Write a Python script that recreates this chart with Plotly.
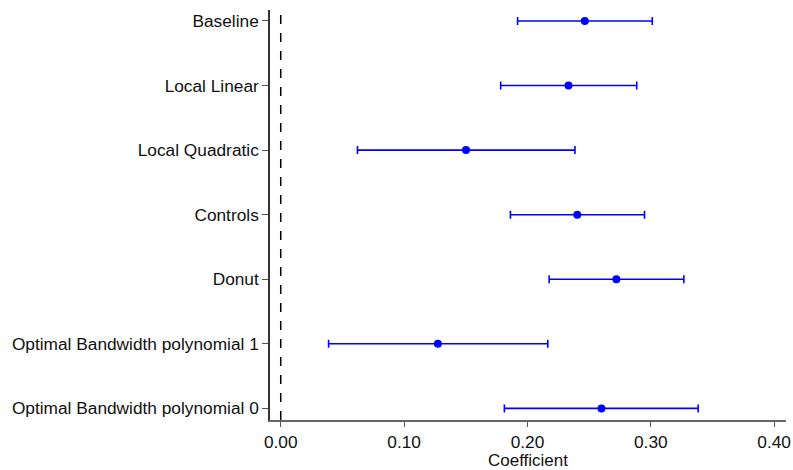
import plotly.graph_objects as go

labels = ["Optimal Bandwidth polynomial 0", "Optimal Bandwidth polynomial 1",
          "Donut", "Controls", "Local Quadratic", "Local Linear", "Baseline"]
coef = [0.260, 0.1274, 0.2721, 0.2404, 0.1502, 0.2333, 0.2465]
ci_low = [0.1813, 0.0388, 0.2176, 0.1862, 0.0622, 0.1783, 0.1920]
ci_high = [0.3384, 0.2165, 0.3268, 0.2949, 0.2385, 0.2886, 0.3012]
xticks = [0.0, 0.1, 0.2, 0.3, 0.4]
xtick_text = ["0.00", "0.10", "0.20", "0.30", "0.40"]

ypos = list(range(len(labels)))
err_plus = [h - c for h, c in zip(ci_high, coef)]
err_minus = [c - l for c, l in zip(coef, ci_low)]

fig = go.Figure()
fig.add_trace(go.Scatter(
    x=coef, y=ypos, mode="markers",
    marker=dict(color="#0000FF", size=8),
    error_x=dict(type="data", symmetric=False, array=err_plus, arrayminus=err_minus,
                 color="#0000FF", thickness=1.6, width=4),
    showlegend=False,
))
fig.add_shape(type="line", x0=0, x1=0, xref="x", y0=0, y1=1, yref="paper",
              line=dict(color="black", width=1.5, dash="dash"))

font = "Liberation Sans, Arial, sans-serif"
fig.update_layout(
    width=793, height=470,
    margin=dict(l=270, r=7, t=10, b=50),
    plot_bgcolor="white", paper_bgcolor="white",
    font=dict(family=font, size=17.3, color="#111111"),
    xaxis=dict(range=[-0.0087, 0.4096], tickvals=xticks, ticktext=xtick_text,
               automargin=False,
               showgrid=False, zeroline=False, showline=True, linecolor="#666666",
               linewidth=1.5, ticks="outside", ticklen=5, tickcolor="#555555",
               title=dict(text="Coefficient", standoff=7, font=dict(size=17))),
    yaxis=dict(range=[-0.18, 6.17], tickvals=ypos, ticktext=labels,
               automargin=False,
               showgrid=False, zeroline=False, showline=True, linecolor="#333333",
               linewidth=1.5, ticks="outside", ticklen=6, tickcolor="#555555"),
)
fig.write_html("out.html")
